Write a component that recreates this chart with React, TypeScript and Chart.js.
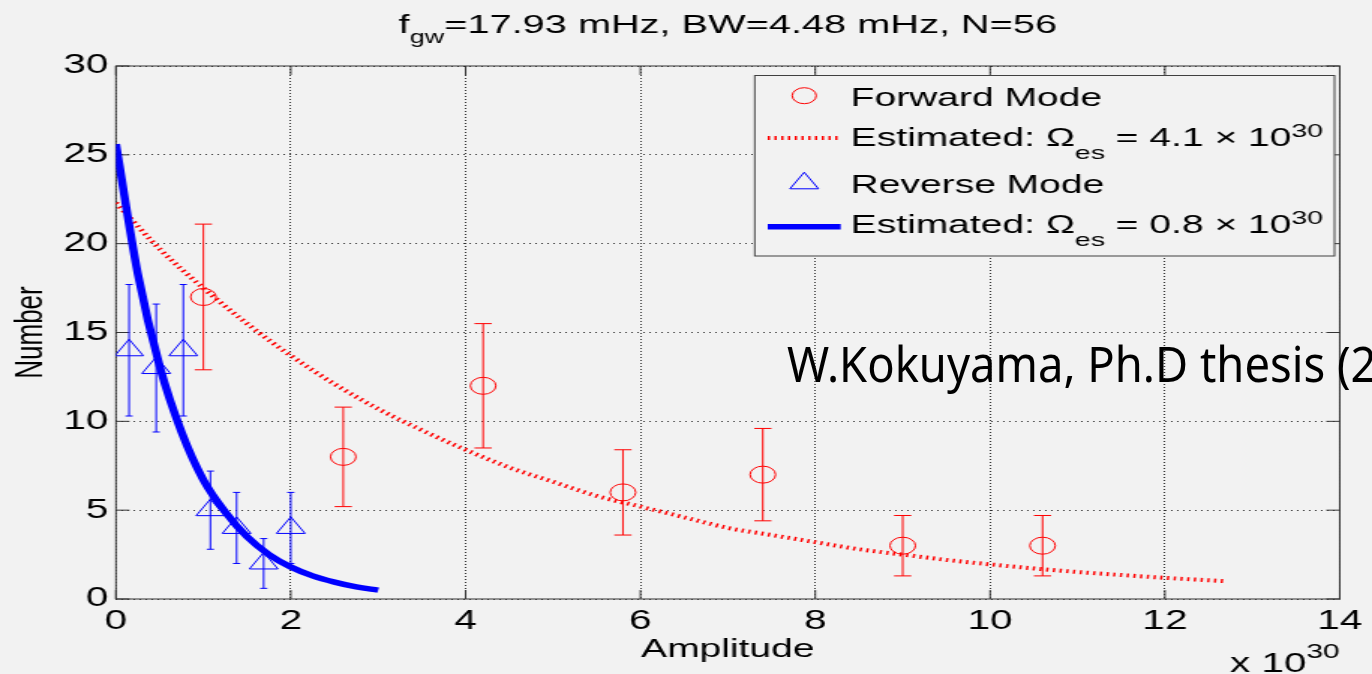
import React, { useEffect, useRef } from "react";
import { Chart, registerables } from "chart.js";

Chart.register(...registerables);

// ---------------- data ----------------
const forwardX = [1.0, 2.6, 4.2, 5.8, 7.4, 9.0, 10.6];
const forwardY = [17, 8, 12, 6, 7, 3, 3];
const forwardErrLow = [12.9, 5.2, 8.5, 3.6, 4.4, 1.3, 1.3];
const forwardErrHigh = [21.1, 10.8, 15.5, 8.4, 9.6, 4.7, 4.7];

const reverseX = [0.15, 0.46, 0.77, 1.08, 1.38, 1.69, 2.0];
const reverseY = [14, 13, 14, 5, 4, 2, 4];
const reverseErrLow = [10.3, 9.4, 10.3, 2.8, 2.0, 0.6, 2.0];
const reverseErrHigh = [17.7, 16.6, 17.7, 7.2, 6.0, 3.4, 6.0];

const forwardFitX = [0, 0.5, 1, 1.5, 2, 2.5, 3, 3.5, 4, 4.5, 5, 5.5, 6, 6.5, 7, 7.5, 8, 8.5, 9, 9.5, 10, 10.5, 11, 11.5, 12, 12.7];
const forwardFitY = [22.3, 19.7, 17.5, 15.5, 13.7, 12.1, 10.7, 9.5, 8.4, 7.4, 6.6, 5.8, 5.2, 4.6, 4.0, 3.6, 3.2, 2.8, 2.5, 2.2, 1.95, 1.72, 1.52, 1.35, 1.19, 1.0];

const reverseFitX = [0, 0.25, 0.5, 0.75, 1, 1.25, 1.5, 1.75, 2, 2.25, 2.5, 2.75, 3];
const reverseFitY = [25.6, 18.3, 13.1, 9.4, 6.7, 4.9, 3.5, 2.5, 1.8, 1.3, 0.95, 0.68, 0.5];

const xRange = [0, 14];
const xStep = 2;
const yRange = [0, 30];
const yStep = 5;

const titleF = "f";
const titleSub = "gw";
const titleRest = "=17.93 mHz, BW=4.48 mHz, N=56";
const xLabel = "Amplitude";
const yLabel = "Number";
const xExpBase = "x 10";
const xExpPow = "30";
const legendForward = "Forward Mode";
const legendReverse = "Reverse Mode";
const legendEstPrefix = "Estimated: Ω";
const legendEstSub = "es";
const legendEstForward = " = 4.1 × 10";
const legendEstReverse = " = 0.8 × 10";
const legendEstPow = "30";
const noteMain = "W.Kokuyama, Ph.D thesis (";
const noteTail = "2";

// ---------------- layout / style ----------------
const FULL_W = 1372;
const FULL_H = 674;
const STRETCH = 1.5;
const CANVAS_W = Math.round(FULL_W / STRETCH);
const PLOT_LEFT = 116 / STRETCH;
const PLOT_RIGHT = 1346 / STRETCH;
const PLOT_TOP = 66;
const PLOT_BOTTOM = 599;
const FONT = '"Liberation Sans", Arial, Helvetica, sans-serif';
const RED = "#ff0000";
const BLUE = "#0000ff";
const BG = "#f2f2f2";
const AXIS = "#333333";
const GRID = "rgba(0,0,0,0.8)";
const NOTE_WIDTH = 564;
const RED_FIT_WIDTH = 4;
const RED_FIT_DASH = [1.5, 3];
const BLUE_FIT_WIDTH = 5.5;

type Seg = [string, number, number];

function drawRich(ctx: CanvasRenderingContext2D, segs: Seg[], x: number, y: number, align: "left" | "center" | "right") {
  const widths = segs.map((s) => {
    ctx.font = `${s[1]}px ${FONT}`;
    return ctx.measureText(s[0]).width;
  });
  const total = widths.reduce((a, b) => a + b, 0);
  let cx = align === "center" ? x - total / 2 : align === "right" ? x - total : x;
  ctx.textAlign = "left";
  ctx.textBaseline = "alphabetic";
  ctx.fillStyle = "#000";
  segs.forEach((s, i) => {
    ctx.font = `${s[1]}px ${FONT}`;
    ctx.fillText(s[0], cx, y + s[2]);
    cx += widths[i];
  });
}

function triPath(ctx: CanvasRenderingContext2D, x: number, y: number, r: number) {
  ctx.beginPath();
  let rad = 0;
  ctx.moveTo(x + Math.sin(rad) * r, y - Math.cos(rad) * r);
  rad += (2 * Math.PI) / 3;
  ctx.lineTo(x + Math.sin(rad) * r, y - Math.cos(rad) * r);
  rad += (2 * Math.PI) / 3;
  ctx.lineTo(x + Math.sin(rad) * r, y - Math.cos(rad) * r);
  ctx.closePath();
}

const framePlugin = {
  id: "frameAndErrors",
  beforeDatasetsDraw(chart: any) {
    const { ctx, chartArea: ca, scales } = chart;
    const xs = scales.x;
    const ys = scales.y;
    ctx.save();
    ctx.strokeStyle = AXIS;
    ctx.lineWidth = 1;
    ctx.setLineDash([]);
    ctx.strokeRect(ca.left, ca.top, ca.right - ca.left, ca.bottom - ca.top);
    const tl = 9;
    ctx.beginPath();
    xs.ticks.forEach((t: any) => {
      const px = xs.getPixelForValue(t.value);
      ctx.moveTo(px, ca.bottom);
      ctx.lineTo(px, ca.bottom - tl);
      ctx.moveTo(px, ca.top);
      ctx.lineTo(px, ca.top + tl);
    });
    ys.ticks.forEach((t: any) => {
      const py = ys.getPixelForValue(t.value);
      ctx.moveTo(ca.left, py);
      ctx.lineTo(ca.left + tl, py);
      ctx.moveTo(ca.right, py);
      ctx.lineTo(ca.right - tl, py);
    });
    ctx.stroke();

    const sets = [
      { xv: forwardX, lo: forwardErrLow, hi: forwardErrHigh, color: RED, cap: 11.5 },
      { xv: reverseX, lo: reverseErrLow, hi: reverseErrHigh, color: BLUE, cap: 4.8 },
    ];
    sets.forEach((s) => {
      ctx.strokeStyle = s.color;
      ctx.lineWidth = 1;
      ctx.beginPath();
      s.xv.forEach((xv, i) => {
        const px = xs.getPixelForValue(xv);
        const p1 = ys.getPixelForValue(s.lo[i]);
        const p2 = ys.getPixelForValue(s.hi[i]);
        ctx.moveTo(px, p1);
        ctx.lineTo(px, p2);
        ctx.moveTo(px - s.cap / 2, p1);
        ctx.lineTo(px + s.cap / 2, p1);
        ctx.moveTo(px - s.cap / 2, p2);
        ctx.lineTo(px + s.cap / 2, p2);
      });
      ctx.stroke();
    });
    ctx.restore();
  },
  afterDatasetsDraw(chart: any) {
    const { ctx } = chart;
    ctx.save();
    const bx = 755 / STRETCH;
    const bw = (1335 - 755) / STRETCH;
    const by = 75.5;
    const bh = 180.5;
    ctx.fillStyle = BG;
    ctx.fillRect(bx, by, bw, bh);
    ctx.strokeStyle = "#404040";
    ctx.lineWidth = 1;
    ctx.strokeRect(bx, by, bw, bh);

    const symX = 804.5 / STRETCH;
    const lineX1 = 768 / STRETCH;
    const lineX2 = 841 / STRETCH;
    const textX = 851 / STRETCH;

    ctx.strokeStyle = RED;
    ctx.lineWidth = 1;
    ctx.beginPath();
    ctx.arc(symX, 95.7, 8, 0, Math.PI * 2);
    ctx.stroke();
    drawRich(ctx, [[legendForward, 26, 0]], textX, 105.7, "left");

    ctx.strokeStyle = RED;
    ctx.lineWidth = RED_FIT_WIDTH;
    ctx.setLineDash(RED_FIT_DASH);
    ctx.beginPath();
    ctx.moveTo(lineX1, 138);
    ctx.lineTo(lineX2, 138);
    ctx.stroke();
    ctx.setLineDash([]);
    drawRich(
      ctx,
      [
        [legendEstPrefix, 26, 0],
        [legendEstSub, 19, 13],
        [legendEstForward, 26, 0],
        [legendEstPow, 19, -9],
      ],
      textX,
      146,
      "left"
    );

    ctx.strokeStyle = BLUE;
    ctx.lineWidth = 1;
    triPath(ctx, symX, 183.3, 11);
    ctx.stroke();
    drawRich(ctx, [[legendReverse, 26, 0]], textX, 193.3, "left");

    ctx.strokeStyle = BLUE;
    ctx.lineWidth = BLUE_FIT_WIDTH;
    ctx.beginPath();
    ctx.moveTo(lineX1, 226.7);
    ctx.lineTo(lineX2, 226.7);
    ctx.stroke();
    drawRich(
      ctx,
      [
        [legendEstPrefix, 26, 0],
        [legendEstSub, 19, 13],
        [legendEstReverse, 26, 0],
        [legendEstPow, 19, -9],
      ],
      textX,
      233.3,
      "left"
    );
    ctx.restore();
  },
  afterDraw(chart: any) {
    const { ctx, chartArea: ca } = chart;
    ctx.save();
    drawRich(
      ctx,
      [
        [titleF, 26.5, 0],
        [titleSub, 18, 9.5],
        [titleRest, 26.5, 0],
      ],
      (ca.left + ca.right) / 2,
      33,
      "center"
    );
    drawRich(
      ctx,
      [
        [xExpBase, 27, 0],
        [xExpPow, 20, -14],
      ],
      ca.right,
      672,
      "right"
    );
    ctx.restore();
  },
};

function pts(xs: number[], ys: number[]) {
  return xs.map((x, i) => ({ x, y: ys[i] }));
}

export default function App() {
  const canvasRef = useRef<HTMLCanvasElement>(null);
  const noteRef = useRef<HTMLDivElement>(null);
  const noteMeasureRef = useRef<HTMLSpanElement>(null);

  useEffect(() => {
    const canvas = canvasRef.current;
    if (!canvas) return;
    const chart = new Chart(canvas, {
      type: "scatter",
      data: {
        datasets: [
          {
            label: legendForward,
            data: pts(forwardX, forwardY),
            showLine: false,
            pointStyle: "circle",
            pointRadius: 8.5,
            pointBorderWidth: 1,
            pointBorderColor: RED,
            pointBackgroundColor: "rgba(0,0,0,0)",
            order: 1,
          },
          {
            label: legendReverse,
            data: pts(reverseX, reverseY),
            showLine: false,
            pointStyle: "triangle",
            pointRadius: 11,
            pointBorderWidth: 1,
            pointBorderColor: BLUE,
            pointBackgroundColor: "rgba(0,0,0,0)",
            order: 2,
          },
          {
            label: "fit reverse",
            data: pts(reverseFitX, reverseFitY),
            showLine: true,
            pointRadius: 0,
            borderColor: BLUE,
            borderWidth: BLUE_FIT_WIDTH,
            cubicInterpolationMode: "monotone",
            order: 3,
          },
          {
            label: "fit forward",
            data: pts(forwardFitX, forwardFitY),
            showLine: true,
            pointRadius: 0,
            borderColor: RED,
            borderWidth: RED_FIT_WIDTH,
            borderDash: RED_FIT_DASH,
            cubicInterpolationMode: "monotone",
            order: 4,
          },
        ],
      },
      options: {
        responsive: false,
        maintainAspectRatio: false,
        animation: false,
        devicePixelRatio: 1,
        events: [],
        layout: {
          padding: { left: 0, right: CANVAS_W - PLOT_RIGHT, top: PLOT_TOP, bottom: 0 },
        },
        plugins: {
          legend: { display: false },
          tooltip: { enabled: false },
          title: { display: false },
        },
        scales: {
          x: {
            type: "linear",
            min: xRange[0],
            max: xRange[1],
            afterFit: (s: any) => {
              s.height = FULL_H - PLOT_BOTTOM;
            },
            ticks: {
              stepSize: xStep,
              font: { family: FONT, size: 27 },
              color: "#000",
              padding: 6.5,
              maxRotation: 0,
              autoSkip: false,
            },
            grid: { color: GRID, lineWidth: 1, drawTicks: false },
            border: { display: false, dash: [1, 2] },
            title: {
              display: true,
              text: xLabel,
              font: { family: FONT, size: 26 },
              color: "#000",
              padding: { top: 0, bottom: 8.4 },
            },
          },
          y: {
            type: "linear",
            min: yRange[0],
            max: yRange[1],
            afterFit: (s: any) => {
              s.width = PLOT_LEFT;
            },
            ticks: {
              stepSize: yStep,
              font: { family: FONT, size: 27 },
              color: "#000",
              padding: 5,
            },
            grid: { color: GRID, lineWidth: 1, drawTicks: false },
            border: { display: false, dash: [1, 3] },
            title: {
              display: true,
              text: yLabel,
              font: { family: FONT, size: 26 },
              color: "#000",
              padding: { top: 5.4, bottom: 0 },
            },
          },
        },
      } as any,
      plugins: [framePlugin as any],
    });
    return () => chart.destroy();
  }, []);

  useEffect(() => {
    const span = noteMeasureRef.current;
    const box = noteRef.current;
    if (span && box) {
      const w = span.offsetWidth;
      if (w > 0) box.style.transform = `scaleX(${NOTE_WIDTH / w})`;
    }
  }, []);

  return (
    <div
      style={{
        position: "absolute",
        left: 0,
        top: 0,
        width: FULL_W,
        height: FULL_H,
        overflow: "hidden",
        background: BG,
      }}
    >
      <canvas
        ref={canvasRef}
        width={CANVAS_W}
        height={FULL_H}
        style={{ width: FULL_W + "px", height: FULL_H + "px", display: "block" }}
      />
      <div
        ref={noteRef}
        style={{
          position: "absolute",
          left: 787,
          top: 338.5,
          fontFamily: '"Noto Sans", "Open Sans", sans-serif',
          fontSize: 49,
          lineHeight: 1,
          whiteSpace: "nowrap",
          color: "#000",
          transformOrigin: "left top",
        }}
      >
        <span ref={noteMeasureRef} style={{ display: "inline-block" }}>
          {noteMain}
        </span>
        <span>{noteTail}</span>
      </div>
    </div>
  );
}
